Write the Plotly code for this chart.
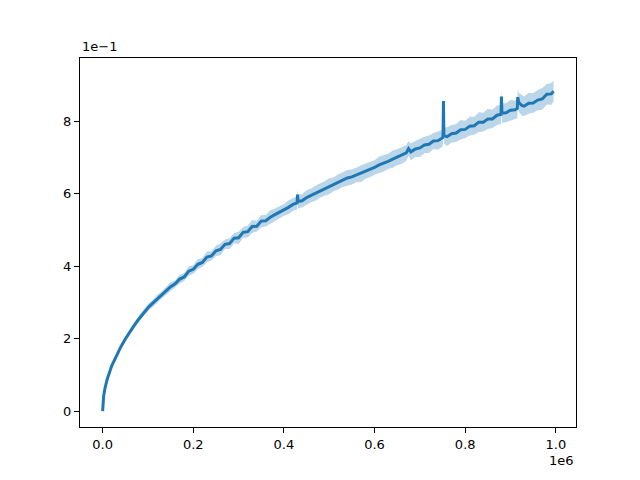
import plotly.graph_objects as go

# x positions in thousands of steps, mean value and half-width of the band
x_k = [0, 2, 5, 10, 20, 30, 40, 50, 60, 70,
       80, 90, 100, 110, 120, 130, 140, 150, 160, 170,
       180, 190, 200, 210, 220, 230, 240, 250, 260, 270,
       280, 290, 300, 310, 320, 330, 340, 350, 360, 370,
       380, 390, 400, 410, 420, 429, 430, 431, 440, 450,
       460, 470, 480, 490, 500, 510, 520, 530, 540, 550,
       560, 570, 580, 590, 600, 610, 620, 630, 640, 650,
       660, 670, 675, 680, 690, 700, 710, 720, 730, 740,
       750, 751, 752, 753, 760, 770, 780, 790, 800, 810,
       820, 830, 840, 850, 860, 870, 879, 880, 881, 890,
       900, 910, 915, 916, 918, 925, 930, 940, 950, 960,
       970, 980, 990, 995]
y_mean = [0.000, 0.040, 0.062, 0.088, 0.125, 0.153, 0.177, 0.199, 0.219, 0.237,
          0.254, 0.270, 0.285, 0.297, 0.309, 0.320, 0.332, 0.343, 0.351, 0.364,
          0.370, 0.386, 0.391, 0.405, 0.410, 0.425, 0.428, 0.442, 0.446, 0.460,
          0.462, 0.477, 0.478, 0.493, 0.495, 0.509, 0.510, 0.524, 0.525, 0.535,
          0.542, 0.548, 0.555, 0.562, 0.570, 0.574, 0.597, 0.578, 0.580, 0.589,
          0.595, 0.601, 0.608, 0.614, 0.620, 0.626, 0.632, 0.638, 0.643, 0.646,
          0.651, 0.655, 0.662, 0.667, 0.672, 0.679, 0.683, 0.689, 0.695, 0.700,
          0.705, 0.712, 0.724, 0.715, 0.723, 0.726, 0.734, 0.736, 0.745, 0.746,
          0.754, 0.757, 0.855, 0.760, 0.757, 0.765, 0.767, 0.776, 0.777, 0.786,
          0.787, 0.797, 0.797, 0.806, 0.806, 0.816, 0.818, 0.868, 0.822, 0.823,
          0.830, 0.831, 0.835, 0.866, 0.852, 0.843, 0.841, 0.849, 0.850, 0.858,
          0.861, 0.874, 0.875, 0.882]
y_spread = [0.000, 0.002, 0.003, 0.004, 0.005, 0.006, 0.006, 0.007, 0.008, 0.008,
            0.009, 0.008, 0.010, 0.009, 0.011, 0.010, 0.011, 0.012, 0.010, 0.012,
            0.011, 0.013, 0.012, 0.014, 0.012, 0.015, 0.013, 0.014, 0.016, 0.013,
            0.015, 0.014, 0.017, 0.015, 0.016, 0.018, 0.015, 0.017, 0.016, 0.019,
            0.017, 0.018, 0.016, 0.019, 0.018, 0.017, 0.014, 0.020, 0.018, 0.020,
            0.019, 0.021, 0.019, 0.020, 0.022, 0.019, 0.021, 0.020, 0.022, 0.021,
            0.020, 0.023, 0.021, 0.022, 0.020, 0.023, 0.022, 0.021, 0.024, 0.022,
            0.023, 0.022, 0.020, 0.024, 0.022, 0.025, 0.023, 0.024, 0.022, 0.025,
            0.024, 0.020, 0.012, 0.022, 0.026, 0.024, 0.025, 0.027, 0.024, 0.026,
            0.025, 0.027, 0.026, 0.028, 0.025, 0.027, 0.026, 0.020, 0.027, 0.026,
            0.028, 0.026, 0.027, 0.022, 0.026, 0.028, 0.027, 0.029, 0.027, 0.028,
            0.030, 0.028, 0.030, 0.029]

x_ticks = [0, 0.2e6, 0.4e6, 0.6e6, 0.8e6, 1.0e6]
x_labels = ['0.0', '0.2', '0.4', '0.6', '0.8', '1.0']
y_ticks = [0, 0.2, 0.4, 0.6, 0.8]
y_labels = ['0', '2', '4', '6', '8']

assert len(x_k) == len(y_mean) == len(y_spread)

xs = [v * 1000 for v in x_k]
upper = [m + s for m, s in zip(y_mean, y_spread)]
lower = [m - s for m, s in zip(y_mean, y_spread)]

blue = '#1f77b4'
fig = go.Figure()
fig.add_trace(go.Scatter(x=xs, y=upper, mode='lines', line=dict(width=0),
                         showlegend=False, hoverinfo='skip'))
fig.add_trace(go.Scatter(x=xs, y=lower, mode='lines', line=dict(width=0),
                         fill='tonexty', fillcolor='rgba(31,119,180,0.3)',
                         showlegend=False, hoverinfo='skip'))
fig.add_trace(go.Scatter(x=xs, y=y_mean, mode='lines',
                         line=dict(color=blue, width=3), showlegend=False))

axis_style = dict(showgrid=False, zeroline=False, showline=True, linecolor='black',
                  linewidth=1, mirror=True, ticks='outside', ticklen=5,
                  tickcolor='black', tickfont=dict(size=13, color='black'))
fig.update_xaxes(range=[-0.05e6, 1.0445e6], tickvals=x_ticks, ticktext=x_labels, **axis_style)
fig.update_yaxes(range=[-0.044, 0.974], tickvals=y_ticks, ticktext=y_labels, **axis_style)

fig.add_annotation(text='1e\u22121', xref='paper', yref='paper', x=0, y=1.0,
                   xanchor='left', yanchor='bottom', showarrow=False, yshift=2,
                   font=dict(size=13, color='black'))
fig.add_annotation(text='1e6', xref='paper', yref='paper', x=1, y=0,
                   xanchor='right', yanchor='top', showarrow=False, yshift=-24,
                   font=dict(size=13, color='black'))

# the page body adds 8px on the top and left, so the figure is 8px smaller
fig.update_layout(width=632, height=472, plot_bgcolor='white', paper_bgcolor='white',
                  margin=dict(l=72, r=64, t=50, b=53),
                  font=dict(family='DejaVu Sans', size=13, color='black'))

fig.write_html('out.html')
